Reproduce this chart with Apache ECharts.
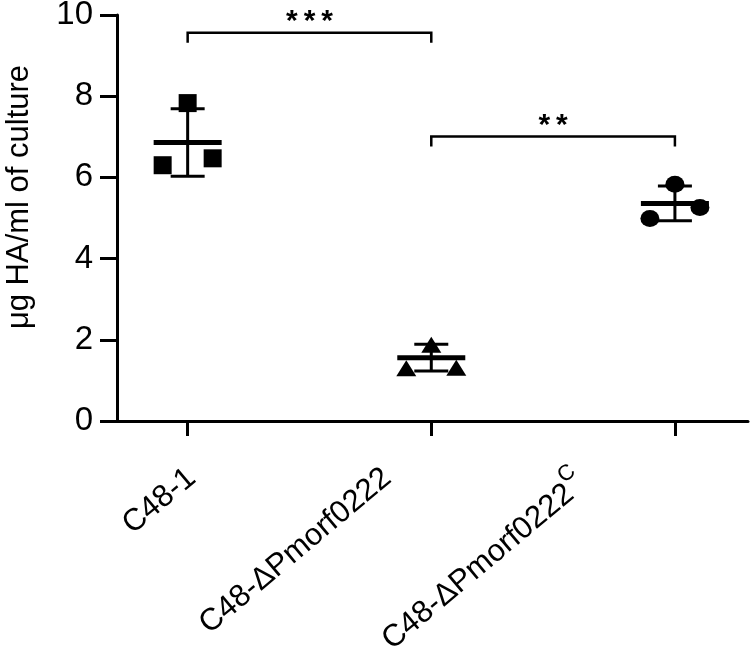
<!DOCTYPE html>
<html>
<head>
<meta charset="utf-8">
<script src="https://cdn.jsdelivr.net/npm/echarts@6/dist/echarts.min.js"></script>
<style>
html, body { margin: 0; padding: 0; background: #fff; }
#main { width: 750px; height: 650px; }
</style>
</head>
<body>
<div id="main"></div>
<script>
var groups = ['C48-1', 'C48-ΔPmorf0222', 'C48-ΔPmorf0222'];
var groupSup = ['', '', 'C'];
var yTicks = [0, 2, 4, 6, 8, 10];
// replicates, ordered left / middle / right as drawn
var c48Values = [6.30, 7.83, 6.47];
var deltaValues = [1.30, 1.88, 1.31];
var compValues = [4.99, 5.83, 5.26];
// mean and SD bars
var means = [6.86, 1.56, 5.36];
var sds = [0.83, 0.33, 0.43];
// significance brackets
var sigFrom = [0, 1];
var sigTo = [1, 2];
var sigHeight = [9.56, 7.01];
var sigLabel = ['***', '**'];

var FONT = '"Liberation Sans", Arial, sans-serif';
var jitter = [-25, 0, 25];
// where each rotated category label ends, relative to its tick
var labelDx = [4, -44, -96];
var labelDy = [53, 53, 55];

function points(gi, vals) {
    return vals.map(function (v, k) {
        return { value: [gi, v], symbolOffset: [jitter[k], 0] };
    });
}

function renderErr(params, api) {
    var i = api.value(0), m = api.value(1), s = api.value(2);
    var c = api.coord([i, m]);
    var top = api.coord([i, m + s]);
    var bot = api.coord([i, m - s]);
    var st = { stroke: '#000', lineWidth: 3 };
    return {
        type: 'group',
        children: [
            { type: 'line', shape: { x1: c[0], y1: top[1], x2: c[0], y2: bot[1] }, style: st },
            { type: 'line', shape: { x1: c[0] - 17, y1: top[1], x2: c[0] + 17, y2: top[1] }, style: st },
            { type: 'line', shape: { x1: c[0] - 17, y1: bot[1], x2: c[0] + 17, y2: bot[1] }, style: st },
            { type: 'line', shape: { x1: c[0] - 34, y1: c[1], x2: c[0] + 34, y2: c[1] }, style: { stroke: '#000', lineWidth: 5 } }
        ]
    };
}

function renderSig(params, api) {
    var a = api.coord([api.value(0), api.value(2)]);
    var b = api.coord([api.value(1), api.value(2)]);
    var txt = sigLabel[params.dataIndex].split('').join('\u2009');
    return {
        type: 'group',
        children: [
            { type: 'polyline', shape: { points: [[a[0], a[1] + 10], [a[0], a[1]], [b[0], b[1]], [b[0], b[1] + 10]] },
              style: { stroke: '#000', lineWidth: 2.5, fill: null } },
            { type: 'text', x: (a[0] + b[0]) / 2, y: a[1] + 4,
              style: { text: txt, font: 'bold 30px ' + FONT, fill: '#000', align: 'center', verticalAlign: 'bottom' } }
        ]
    };
}

function renderLabel(params, api) {
    var i = params.dataIndex;
    var p = api.coord([api.value(0), 0]);
    var txt = '{t|' + groups[i] + '}' + (groupSup[i] ? '{sup|' + groupSup[i] + '}' : '');
    return {
        type: 'text',
        x: p[0] + labelDx[i],
        y: p[1] + labelDy[i],
        rotation: 40 * Math.PI / 180,
        style: {
            text: txt,
            align: 'right',
            verticalAlign: 'middle',
            fill: '#000',
            rich: {
                t: { fontSize: 31, fontFamily: FONT, fill: '#000', verticalAlign: 'bottom' },
                sup: { fontSize: 22, fontFamily: FONT, fill: '#000', verticalAlign: 'bottom', padding: [0, 0, 19, 0] }
            }
        }
    };
}

var chart = echarts.init(document.getElementById('main'));
var option = {
    backgroundColor: '#fff',
    animation: false,
    grid: { left: 117, right: 2, top: 15, bottom: 229, outerBoundsMode: 'none', containLabel: false },
    xAxis: {
        type: 'value',
        min: -0.29,
        max: 2.30,
        splitLine: { show: false },
        axisLine: { show: true, onZero: false, lineStyle: { color: '#000', width: 3 } },
        axisTick: { show: true, customValues: [0, 1, 2], length: 15, lineStyle: { color: '#000', width: 3 } },
        axisLabel: { show: false }
    },
    yAxis: {
        type: 'value',
        min: yTicks[0],
        max: yTicks[yTicks.length - 1],
        interval: yTicks[1] - yTicks[0],
        name: 'μg HA/ml of culture',
        nameLocation: 'middle',
        nameGap: 82,
        nameTextStyle: { color: '#000', fontSize: 31, fontFamily: FONT, padding: [0, 0, 0, 42] },
        splitLine: { show: false },
        axisLine: { show: true, onZero: false, lineStyle: { color: '#000', width: 3 } },
        axisTick: { show: true, length: 17, lineStyle: { color: '#000', width: 3 } },
        axisLabel: { color: '#000', fontSize: 33, fontFamily: FONT, margin: 24 }
    },
    series: [
        {
            type: 'custom',
            renderItem: renderErr,
            data: means.map(function (m, i) { return [i, m, sds[i]]; }),
            z: 2
        },
        {
            type: 'scatter', symbol: 'rect', symbolSize: 18,
            itemStyle: { color: '#000', opacity: 1 }, data: points(0, c48Values), z: 3
        },
        {
            type: 'scatter', symbol: 'triangle', symbolSize: [20, 16],
            itemStyle: { color: '#000', opacity: 1 }, data: points(1, deltaValues), z: 3
        },
        {
            type: 'scatter', symbol: 'circle', symbolSize: [19, 17],
            itemStyle: { color: '#000', opacity: 1 }, data: points(2, compValues), z: 3
        },
        {
            type: 'custom',
            renderItem: renderSig,
            data: sigFrom.map(function (f, i) { return [f, sigTo[i], sigHeight[i]]; }),
            z: 4
        },
        {
            type: 'custom',
            renderItem: renderLabel,
            clip: false,
            data: groups.map(function (g, i) { return [i, 0]; }),
            z: 4
        }
    ]
};
chart.setOption(option);
</script>
</body>
</html>
